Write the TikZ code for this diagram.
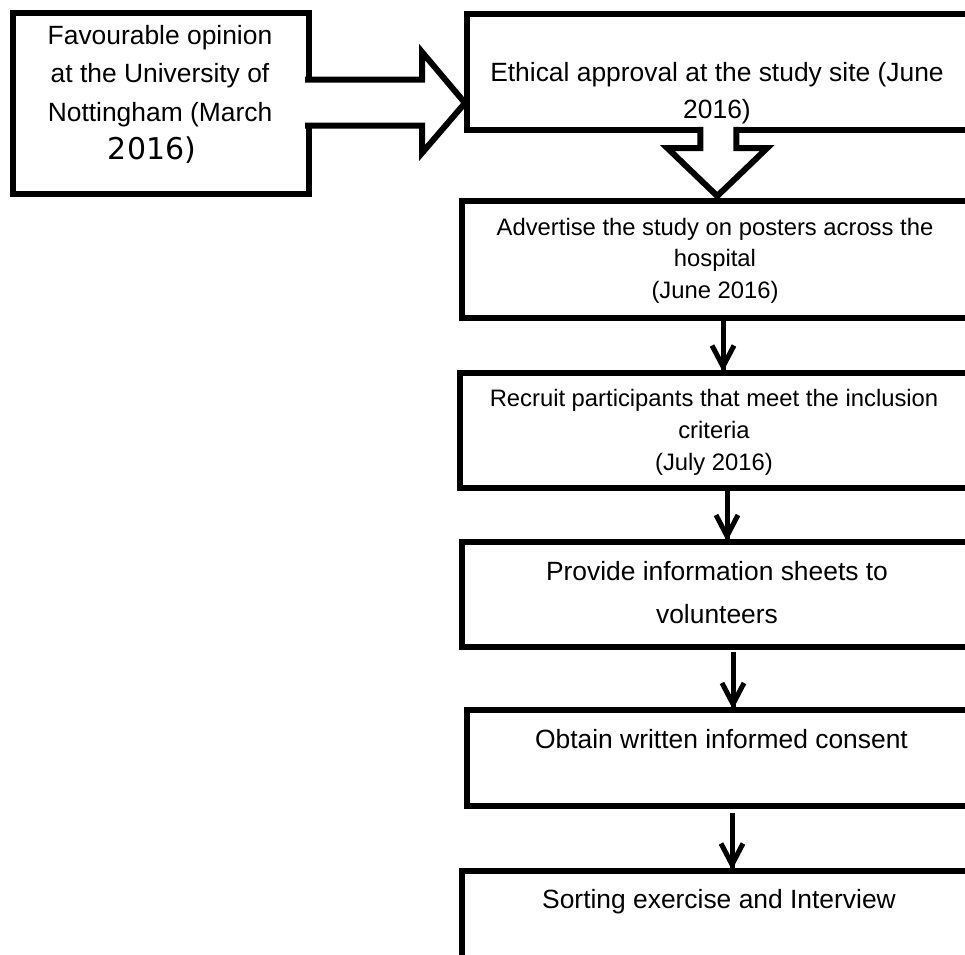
\documentclass[tikz,border=0pt]{standalone}
\usepackage{fontspec}
\setmainfont{Liberation Sans}
\newfontfamily\digitfont{DejaVu Sans}
\usetikzlibrary{calc}
% centred multi-line text whose reference point is the first baseline
\newcommand\mylines[1]{\begin{tabular}[t]{@{}c@{}}#1\end{tabular}}

\begin{document}
\begin{tikzpicture}[x=1pt,y=-1pt,
  stepbox/.style={draw=black, line width=6pt, inner sep=0pt},
  txt/.style={anchor=base, inner sep=0pt, text=black},
  bigtext/.style={font=\fontsize{26.4pt}{38.5pt}\selectfont},
  conn/.style={draw=black, line width=5pt},
  chevron/.style={draw=black, line width=5pt, line join=miter},
  blockarrow/.style={draw=black, line width=6pt, line join=miter, line cap=rect}]

\useasboundingbox (0,0) rectangle (965,954);
\clip (0,0) rectangle (965,954);
\fill[white] (0,0) rectangle (965,954);

% ---- texts
\node[txt, bigtext] (tfav) at (160,44) {\mylines{Favourable opinion\\ at the University of\\ Nottingham (March\\ {\digitfont\fontsize{30pt}{38.5pt}\selectfont 2016)\hspace*{16pt}}}};
\node[txt, font=\fontsize{26.4pt}{36.3pt}\selectfont] (teth) at (717,81.7) {\mylines{Ethical approval at the study site (June\\ 2016)}};
\node[txt, font=\fontsize{23.8pt}{31.5pt}\selectfont] (tadv) at (715,235) {\mylines{Advertise the study on posters across the\\ hospital\\ (June 2016)}};
\node[txt, font=\fontsize{23.8pt}{32pt}\selectfont] (trec) at (714,406) {\mylines{Recruit participants that meet the inclusion\\ criteria\\ (July 2016)}};
\node[txt, font=\fontsize{26.4pt}{43.5pt}\selectfont] (tprov) at (717,580) {\mylines{Provide information sheets to\\ volunteers}};
\node[txt, bigtext] (tobt) at (721.5,748) {Obtain written informed consent};
\node[txt, bigtext] (tsort) at (719,908) {Sorting exercise and Interview};

% ---- boxes
\node[stepbox, minimum width=296, minimum height=181] (fav) at (160.5,103) {};
\node[stepbox, minimum width=501.5, minimum height=116.5] (eth) at (717.25,71.75) {};
\node[stepbox, minimum width=506.5, minimum height=117.5] (adv) at (714.75,259.25) {};
\node[stepbox, minimum width=508, minimum height=115] (rec) at (714,430) {};
\node[stepbox, minimum width=506, minimum height=105] (prov) at (715,594.5) {};
\node[stepbox, minimum width=501.5, minimum height=95.5] (obt) at (717.25,757.75) {};
\node[stepbox, minimum width=506, minimum height=149.5] (sort) at (715,945.25) {};

% ---- hollow block arrow: favourable opinion -> ethical approval
\fill[white] ($(fav.east)+(-7,-23.5)$) -- ($(fav.east)+(110.5,-23.5)$) -- ($(fav.east)+(110.5,-51)$)
  -- ($(eth.west |- fav.east)+(1.5,0)$) -- ($(fav.east)+(110.5,50)$) -- ($(fav.east)+(110.5,22.5)$)
  -- ($(fav.east)+(-7,22.5)$) -- cycle;
\draw[blockarrow] ($(fav.east)+(-3.5,-23.5)$) -- ($(fav.east)+(110.5,-23.5)$) -- ($(fav.east)+(110.5,-51)$)
  -- ($(eth.west |- fav.east)+(1.5,0)$) -- ($(fav.east)+(110.5,50)$) -- ($(fav.east)+(110.5,22.5)$)
  -- ($(fav.east)+(-3.5,22.5)$);

% ---- hollow block arrow: ethical approval -> advertise
\fill[white] ($(eth.south)+(-17,-7)$) -- ($(eth.south)+(-17,15)$) -- ($(eth.south)+(-50,15)$)
  -- ($(eth.south |- adv.north)+(0,-1.5)$) -- ($(eth.south)+(50,15)$) -- ($(eth.south)+(19,15)$)
  -- ($(eth.south)+(19,-7)$) -- cycle;
\draw[blockarrow] ($(eth.south)+(-17,-3.25)$) -- ($(eth.south)+(-17,15)$) -- ($(eth.south)+(-50,15)$)
  -- ($(eth.south |- adv.north)+(0,-1.5)$) -- ($(eth.south)+(50,15)$) -- ($(eth.south)+(19,15)$)
  -- ($(eth.south)+(19,-3.25)$);

% ---- plain arrows between the later steps
\coordinate (ax1) at (723,0);
\coordinate (ax2) at (727,0);
\coordinate (ax3) at (733,0);
\coordinate (ax4) at (732,0);

\draw[conn] (adv.south -| ax1) -- (rec.north -| ax1);
\draw[chevron] ($(rec.north -| ax1)+(-11,-24)$) -- ($(rec.north -| ax1)+(0,-3)$) -- ($(rec.north -| ax1)+(11,-24)$);

\draw[conn] ($(rec.south -| ax2)+(0,-4)$) -- (prov.north -| ax2);
\draw[chevron] ($(prov.north -| ax2)+(-11,-24)$) -- ($(prov.north -| ax2)+(0,-3)$) -- ($(prov.north -| ax2)+(11,-24)$);

\draw[conn] ($(prov.south -| ax3)+(0,2)$) -- (obt.north -| ax3);
\draw[chevron] ($(obt.north -| ax3)+(-11,-24)$) -- ($(obt.north -| ax3)+(0,-3)$) -- ($(obt.north -| ax3)+(11,-24)$);

\draw[conn] ($(obt.south -| ax4)+(0,4)$) -- (sort.north -| ax4);
\draw[chevron] ($(sort.north -| ax4)+(-11,-24)$) -- ($(sort.north -| ax4)+(0,-3)$) -- ($(sort.north -| ax4)+(11,-24)$);

\end{tikzpicture}
\end{document}
